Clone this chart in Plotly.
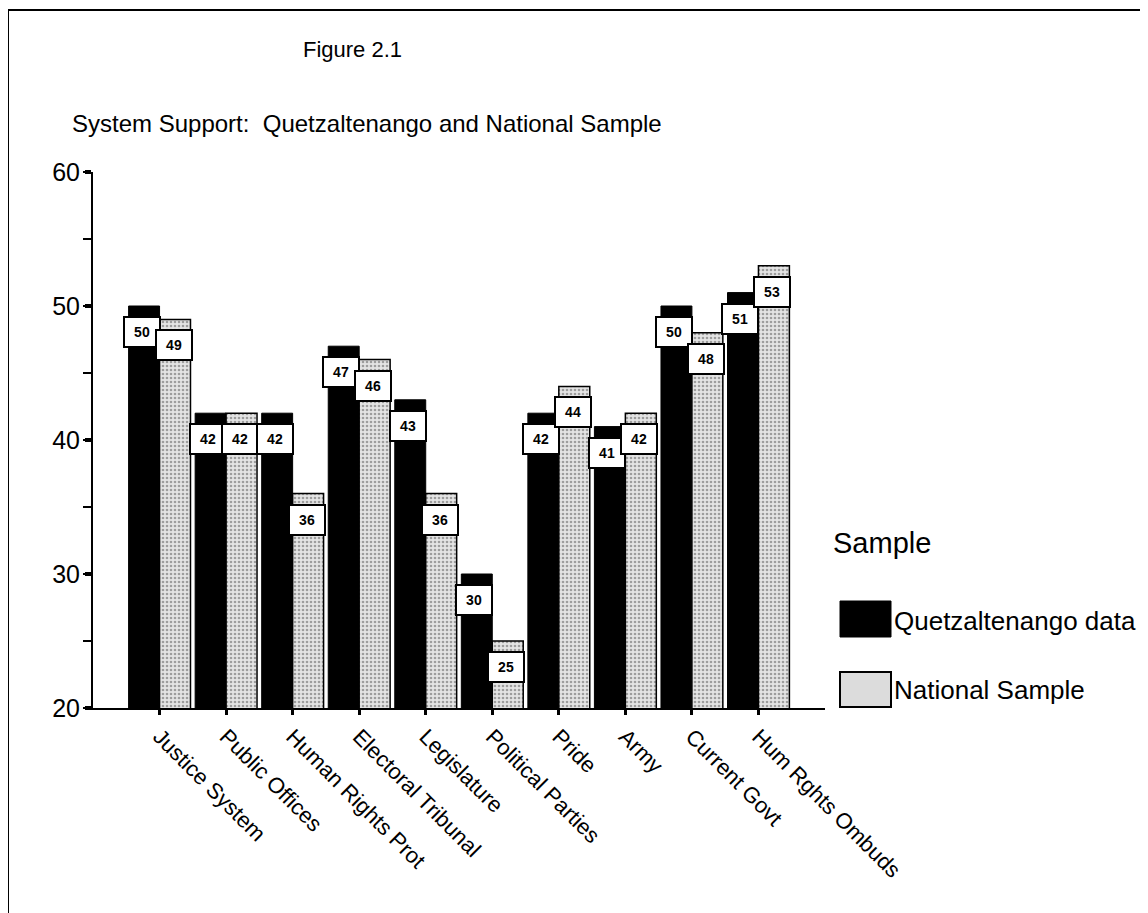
import plotly.graph_objects as go

categories = ['Justice System', 'Public Offices', 'Human Rights Prot', 'Electoral Tribunal',
              'Legislature', 'Political Parties', 'Pride', 'Army', 'Current Govt', 'Hum Rghts Ombuds']
quetzaltenango = [50, 42, 42, 47, 43, 30, 42, 41, 50, 51]
national = [49, 42, 36, 46, 36, 25, 44, 42, 48, 53]
series_names = ['Quetzaltenango data', 'National Sample']
y_ticks = [20, 30, 40, 50, 60]

FONT = 'Liberation Sans, Arial, Helvetica, sans-serif'

# the page body adds an 8px margin, so the figure starts at (8, 8)
OFF = 8
W, H = 1148 - OFF, 913 - OFF
# plot area in page pixels
L, R, T, B = 93, 825, 172, 708


def px(x):
    return (x - L) / (R - L)


def py(y):
    return (B - y) / (B - T)


fig = go.Figure()

fig.add_trace(go.Bar(
    x=categories, y=quetzaltenango, name=series_names[0],
    marker=dict(color='black', line=dict(color='black', width=1)),
    showlegend=False,
))
fig.add_trace(go.Bar(
    x=categories, y=national, name=series_names[1],
    marker=dict(color='#e4e4e4', line=dict(color='black', width=1.5),
                pattern=dict(shape='.', fgcolor='#555555', size=4, solidity=0.35)),
    showlegend=False,
))

# value boxes near the top of each bar
annotations = []
for i, cat in enumerate(categories):
    for val, shift in ((quetzaltenango[i], -16), (national[i], 16)):
        annotations.append(dict(
            x=cat, y=val, xref='x', yref='y', xshift=shift - 2, yshift=-10,
            yanchor='top', text=f'<b>{val}</b>', showarrow=False,
            font=dict(size=14, color='black', family=FONT),
            bgcolor='white', bordercolor='black', borderwidth=2, borderpad=5,
            width=24, height=18,
        ))


def label(x, y, text, size, xanchor='left'):
    return dict(x=px(x), y=py(y), xref='paper', yref='paper', xanchor=xanchor, yanchor='middle',
                text=text, showarrow=False, font=dict(size=size, color='black', family=FONT))


annotations += [
    label(352, 50, 'Figure 2.1', 22, 'center'),
    label(70, 124, 'System Support:&nbsp; Quetzaltenango and National Sample', 24),
    label(831, 543, 'Sample', 29),
    label(892, 621, series_names[0], 26),
    label(892, 690, series_names[1], 26),
]

shapes = [
    # outer frame
    dict(type='rect', xref='paper', yref='paper', x0=px(8), x1=px(1145), y0=py(930), y1=py(10),
         line=dict(color='black', width=2), layer='below'),
    # legend swatches
    dict(type='rect', xref='paper', yref='paper', x0=px(840), x1=px(891), y0=py(637), y1=py(601),
         fillcolor='black', line=dict(color='black', width=1)),
    dict(type='rect', xref='paper', yref='paper', x0=px(840), x1=px(891), y0=py(707), y1=py(672),
         fillcolor='#dcdcdc', line=dict(color='black', width=2)),
]

fig.update_layout(
    width=W, height=H,
    margin=dict(l=L - OFF, r=W - (R - OFF), t=T - OFF, b=H - (B - OFF)),
    paper_bgcolor='white', plot_bgcolor='white',
    barmode='group', bargap=0.07, bargroupgap=0,
    font=dict(family=FONT, color='black'),
    annotations=annotations, shapes=shapes,
    showlegend=False,
)
fig.update_xaxes(
    range=[-1, 10], showgrid=False, showline=True, linecolor='black', linewidth=2,
    ticks='outside', ticklen=5, tickwidth=3, tickcolor='black',
    tickangle=45, tickfont=dict(size=22, color='black', family=FONT),
)
fig.update_yaxes(
    range=[20, 60], tickvals=y_ticks, showgrid=False, zeroline=False,
    showline=True, linecolor='black', linewidth=2,
    ticks='outside', ticklen=6, tickwidth=4, tickcolor='black',
    minor=dict(dtick=5, ticks='outside', ticklen=8, tickwidth=2, tickcolor='black'),
    tickfont=dict(size=25, color='black', family=FONT),
)

fig.write_html('out.html')
